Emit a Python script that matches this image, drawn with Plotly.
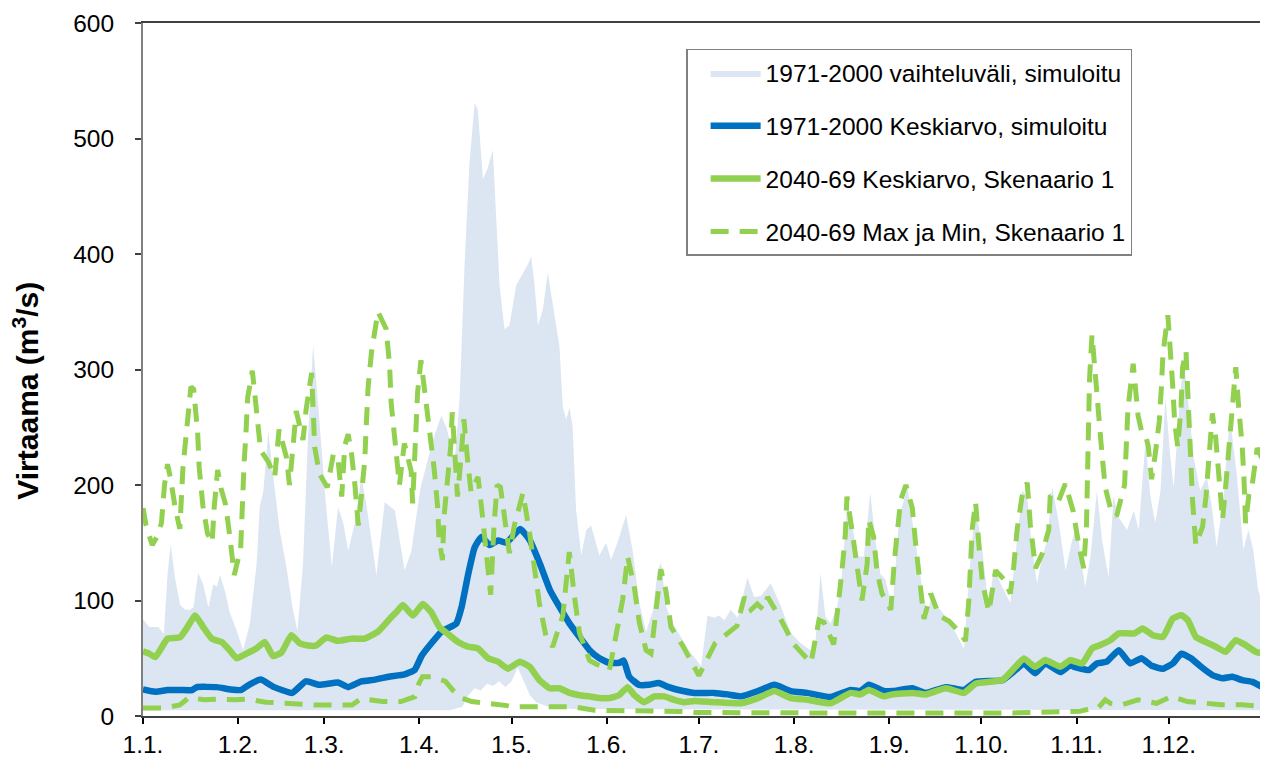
import plotly.graph_objects as go

# ---------------- data (day of year, 0 = 1.1.) ----------------
month_days = [0, 31, 59, 90, 120, 151, 181, 212, 243, 273, 304, 334]
month_labels = ["1.1.", "1.2.", "1.3.", "1.4.", "1.5.", "1.6.", "1.7.", "1.8.", "1.9.", "1.10.", "1.11.", "1.12."]

band_upper_day = [0, 2, 5, 6.8, 8, 9, 10.4, 12.1, 13.7, 15.3, 16.4, 18, 19.6, 21.3, 22.9, 24, 25.1, 26.7, 28.2, 30.5,
                  32.6, 34.8, 37, 38, 39.2, 40.8, 42.3, 44.5, 46.7, 48.8, 50.3, 52.1, 53.8, 55.4, 57.1, 58.7, 59.5,
                  61.5, 63.5, 65.2, 66.8, 69, 71.1, 72.7, 76, 78.7, 82, 85.2, 87.4, 90.3, 94.4, 97.1, 98.8, 101.5,
                  103.1, 104.7, 106.3, 108, 109, 110.7, 112.3, 113.9, 116.1, 117.7, 119.3, 121.5, 123.7, 125.3,
                  126.4, 127.5, 128.6, 130.2, 131.8, 133.4, 135.6, 136.7, 137.8, 138.9, 139.9, 141, 142.7, 144.3,
                  145.9, 148.6, 150.8, 152.4, 154.6, 157.3, 159.4, 161.6, 163.8, 166, 167.6, 168.7, 170.3, 172.5,
                  175.7, 177.9, 179.5, 181.7, 183.8, 186, 187.6, 189.3, 191.4, 193.6, 196.8, 199, 201.2, 204.4,
                  207.7, 210.9, 214.1, 217.4, 219, 220.6, 222.2, 223.9, 226, 227.6, 229.3, 230.9, 232.5, 234.7,
                  236.8, 238.5, 240.1, 241.8, 244, 246.2, 248.9, 251.6, 253.8, 255.4, 257, 258.7, 261.4, 264.6,
                  267.3, 269.5, 271.1, 273.3, 275.4, 277, 279.2, 282.4, 284.6, 286.3, 287.9, 289.5, 291.1, 292.8,
                  294.4, 296.1, 298.2, 300.4, 302.5, 304.2, 305.2, 306.8, 308.5, 310.6, 312.3, 314.4, 316, 317.7,
                  320.4, 322.6, 324.2, 326.4, 328, 329.6, 331.3, 332.9, 334.5, 335.6, 337.2, 338.8, 340.5, 342.1,
                  344.2, 346.4, 348, 349.6, 351.8, 353.9, 356.1, 358.3, 359.9, 361.5, 363.1, 365]
band_upper = [84, 77, 77, 71, 123, 149, 120, 96, 92, 92, 94, 124, 114, 94, 114, 112, 122, 108, 90, 74,
              57, 80, 132, 181, 195, 247, 210, 161, 129, 92, 74, 132, 247, 321, 267, 210, 185,
              129, 181, 167, 143, 167, 207, 184, 122, 185, 178, 126, 143, 197, 239, 260, 250, 221,
              275, 391, 479, 531, 525, 465, 475, 490, 373, 335, 338, 373, 384, 391,
              398, 373, 338, 352, 384, 356, 320, 267, 257, 267, 250, 179, 139, 161,
              165, 139, 150, 135, 151, 174, 144, 98, 73, 91, 126, 133, 95, 80,
              66, 56, 51, 43, 87, 85, 87, 83, 92, 85, 120, 103, 104, 115,
              95, 72, 63, 57, 66, 124, 86, 80, 94, 123, 184, 167, 138, 138,
              193, 152, 123, 118, 92, 172, 198, 150, 109, 86, 109, 95, 86, 72,
              58, 138, 181, 144, 92, 129, 115, 98, 152, 195, 190, 144, 115, 138,
              152, 198, 167, 126, 152, 167, 138, 112, 138, 195, 152, 120, 190, 172,
              161, 178, 161, 238, 190, 167, 195, 276, 224, 198, 259, 311, 267, 224,
              195, 207, 181, 146, 190, 259, 210, 144, 161, 144, 109, 95]

band_lower_day = [0, 100, 104, 106, 108, 110, 112, 114, 116, 118, 120, 122, 124, 126, 128, 132, 140, 365]
band_lower = [5, 5, 8, 18, 24, 22, 28, 26, 30, 25, 30, 42, 30, 18, 12, 8, 6, 5]

blue_day = [0, 4, 8, 12, 16, 17.5, 24, 28.6, 31.9, 34.5, 38.3, 42.7, 48.6, 53, 57.4, 63.5, 66.8, 71.1, 75.6,
            79.9, 85.2, 88.5, 90.7, 93.9, 97.2, 99.3, 102, 103.7, 105.9, 108, 110.2, 112.9, 115.6, 118.3,
            122.8, 126, 129.2, 132.5, 135.7, 138.9, 142.1, 145.4, 148.6, 151.8, 155, 156.5, 158.3, 161.5,
            164.7, 167.9, 171.2, 174.4, 179.5, 186, 190.4, 194.7, 200.2, 205.6, 210.9, 216.3, 223.9, 230.4,
            233.6, 236.3, 241.2, 244, 250.5, 254.9, 261.4, 267.3, 271.1, 279.8, 284.1, 286.8, 290.5, 293.8,
            298.7, 301.9, 303.1, 308, 310.6, 313.8, 317.7, 321.4, 325.1, 328.4, 332.1, 335.3, 338.1, 341.2,
            344.5, 348.2, 351.4, 354.7, 357.9, 361.2, 364.5]
blue_mean = [23, 21, 22.5, 22.5, 22.5, 25, 25, 23, 22.5, 27, 31.5, 25, 20, 30, 27, 29, 25, 30, 31.5,
             34, 36, 40, 52, 63, 73, 76, 80, 94, 123, 146, 155, 148, 152, 150,
             162, 152, 132, 109, 94, 80, 68.5, 57, 50, 46, 46, 48, 34, 27,
             27, 28.5, 25, 22.5, 20, 20, 18.7, 17, 21.6, 27, 21.6, 20, 16.4, 22.5,
             21.6, 27, 21.6, 21.6, 24, 20, 25, 22.5, 29.6, 31, 39.8, 45.5, 37, 45.5,
             38, 44, 42.6, 39.8, 45.5, 47, 57, 45.5, 50, 43.5, 41, 45.5, 54, 50,
             42.6, 35.4, 32.6, 34, 31, 29.6, 25]

green_day = [0, 2, 4, 8, 12, 14, 17, 19.6, 22.4, 25.6, 28.2, 30.5, 33.7, 37, 39.7, 42.3, 45.1, 48.3, 51,
             53.8, 56.4, 59.7, 63.4, 67.9, 72.2, 76.5, 80.3, 82.5, 84.6, 87.9, 91.1, 93.8, 96.5, 99.3, 102.6,
             105.8, 109, 112.4, 115.6, 118.8, 122.7, 125.9, 129.1, 132.4, 135.6, 138.9, 142.1, 145.4, 148.6,
             151.8, 155, 157.8, 160, 163.2, 166.5, 169.7, 173, 176.2, 179.5, 186, 194.7, 200.2, 205.6, 210.9,
             216.3, 223.9, 230.4, 233.6, 236.3, 241.2, 244, 250.5, 254.9, 261.4, 267.3, 271.1, 279.8, 284.1,
             286.8, 290.5, 293.8, 298.7, 301.9, 305.8, 309, 311.7, 315, 317.7, 320.7, 322.8, 325.5, 328.8,
             332.1, 335.3, 338.1, 340.2, 342.8, 346.1, 349.3, 352.5, 355.8, 359, 362.3, 364.5]
green_mean = [56, 54, 51, 67, 68, 75, 87, 77, 67, 64, 57, 50, 54, 58.6, 64, 52, 55, 70, 63,
              61, 61, 68, 65, 67, 67, 73, 84, 90, 96, 87, 97, 90, 77, 71, 64,
              60, 58.6, 50, 47, 41, 47, 42.6, 31, 24, 24, 20, 18, 17, 15.5,
              15.5, 18, 25, 18, 12, 17, 17, 14, 12, 13, 12, 11, 15.5, 21.6, 15.5,
              14, 11, 20, 18.7, 22.5, 17, 18.7, 20, 18.7, 24, 20, 28, 31, 42.6,
              49.8, 42.6, 48.4, 42.6, 48.4, 45.5, 58.5, 61.4, 65.7, 71.5, 71.5, 71.5, 75.8, 70,
              68.5, 84.4, 87.3, 83, 68.5, 64, 60, 55.6, 65.7, 61.4, 55.6, 54]

max_day = [0, 1, 3, 4.5, 6, 7, 8, 9, 10.5, 12, 13, 14.5, 15.6, 16.5, 17.8, 18.3, 19.5, 21, 22.5, 23.2, 24.3,
           25.4, 26.9, 28.3, 29.7, 31.8, 32.3, 32.9, 33.5, 34.1, 35.6, 37.2, 38.3, 40.8, 42.9, 44.3, 46.7,
           47.7, 48.8, 49.9, 52.1, 53.1, 54.9, 55.9, 57.4, 60, 62, 63.5, 64.7, 65.7, 66.8, 67.9, 69, 70.1,
           71.1, 72.2, 72.7, 73.3, 74.4, 76.5, 79.2, 80.3, 80.8, 81.9, 83.5, 85.1, 87.3, 87.8, 88.3, 88.9,
           89.4, 90.5, 92.1, 93.7, 94.8, 95.9, 96.4, 97.5, 98, 99.1, 100.2, 100.7, 101.2, 102.4, 103.5,
           104.5, 105.6, 106.8, 107.8, 109.1, 110.5, 111.5, 113.2, 114.3, 115.3, 116.4, 118, 119.3, 121,
           123.7, 125.9, 127.5, 129.1, 131.3, 133.4, 136.7, 137.8, 138.8, 140.5, 142.1, 145.4, 147.5,
           151.9, 154, 156.2, 157.8, 160, 161.6, 163.8, 165.4, 167, 168.1, 168.6, 170.3, 171.9, 175.7,
           178.5, 181, 186.3, 193.4, 195.8, 198, 200, 202, 203.4, 207.4, 211.9, 217.5, 220.1, 221.7, 224.9,
           226.5, 227.6, 228.7, 229.2, 230.9, 232.5, 234.1, 235.8, 236.3, 237.9, 239, 240.6, 243.5, 244.6,
           245.7, 246.7, 248.4, 250.5, 251.6, 252.7, 254.3, 256.5, 259.2, 262.5, 265.7, 267.8, 268.9, 270,
           271.1, 272.2, 273.3, 275.4, 277.6, 280.8, 282.4, 283.5, 284.6, 286.2, 287.9, 288.9, 290.6,
           292.7, 294.9, 295.4, 298.1, 300.3, 302.9, 304.7, 306.3, 307.2, 307.4, 307.6, 307.9, 308.2,
           309, 310.4, 311.2, 312.2, 313.3, 315, 317, 319.6, 320.2, 320.7, 322.4, 324, 325.1, 326.2, 327.3,
           328.4, 329.5, 330.9, 331.6, 332.1, 333.7, 334.7, 335.3, 335.9, 336.9, 338, 338.5, 339.6, 340.1,
           340.7, 341.2, 341.7, 342.8, 345, 346.1, 347.2, 348.2, 349.3, 350.4, 351.5, 352.5, 353.6, 354.7,
           355.8, 356.8, 357.9, 358.5, 359, 360.1, 361.2, 362.8, 364.5]
max_val = [180, 165, 148, 155, 167, 200, 218, 205, 180, 162, 215, 255, 285, 283, 245, 215, 182, 158, 150, 181, 213,
           197, 183, 155, 122, 145, 184, 218, 244, 276, 299, 262, 230, 220, 207, 248, 224,
           200, 237, 264, 239, 265, 297, 233, 210, 198, 227, 222, 190, 234, 244, 227, 200, 165,
           191, 221, 252, 285, 315, 350, 335, 303, 271, 241, 200, 236, 212, 184, 224, 250,
           280, 308, 275, 245, 214, 182, 153, 135, 172, 203, 234, 263, 236, 190, 222,
           257, 224, 194, 200, 207, 174, 145, 105, 165, 200, 198, 168, 141, 166,
           193, 158, 125, 97, 68, 60, 87, 117, 142, 103, 72, 48, 45,
           40, 70, 101, 138, 111, 81, 57, 54, 87, 118, 127, 108, 77, 61,
           48, 35, 63, 78, 103, 92, 97, 92, 103, 85, 62, 46, 83, 81, 62,
           97, 126, 158, 190, 160, 129, 100, 132, 170, 155, 125, 106, 92, 133,
           157, 187, 200, 180, 148, 122, 84, 106, 87, 82, 73, 65, 100, 162,
           185, 147, 116, 90, 126, 117, 106, 129, 161, 190, 202, 166, 128,
           140, 161, 191, 186, 201, 177, 148, 128, 166, 198, 228, 260, 292,
           330, 292, 260, 228, 198, 180, 173, 200, 234, 266, 305, 260, 247, 245, 234,
           205, 225, 255, 285, 314, 347, 314, 285, 255, 233, 268, 302, 316, 280,
           250, 220, 188, 148, 164, 190, 222, 262, 240, 208, 170, 198, 230, 263,
           302, 266, 234, 204, 167, 192, 201, 232, 222]

min_day = [0, 7, 12, 15, 20, 24, 30, 34, 40, 45, 50, 56, 60, 68, 71, 78, 84, 88.5, 89.8, 91, 94, 98.5, 101,
           103.3, 107, 113, 118.5, 120, 130, 140, 147, 152, 160, 175, 180, 200, 240, 280, 300, 305, 308,
           311, 313.3, 315, 319, 324, 330, 335, 340, 346, 351, 358, 364.5]
min_val = [7, 7, 9.5, 16, 14, 14.5, 14, 14.5, 12, 11, 11, 9.5, 9.5, 9.5, 15, 12.5, 12.5, 16.7, 28, 34, 34, 30, 22,
           16, 12.5, 11, 9, 8, 8, 8, 5, 5, 4, 4, 3, 2.5, 2.5, 2.5, 3, 4, 6,
           7, 14, 11, 10, 14, 11, 17, 12.5, 11, 9.8, 9.8, 8]

y_title = "<b>Virtaama (m<sup>3</sup>/s)</b>"

# ---------------- styles ----------------
BAND = "#DCE6F2"
BLUE = "#0070C0"
GREEN = "#92D050"
FONT = "Liberation Sans, Arial, sans-serif"
TXT = 24.5

fig = go.Figure()

fig.add_trace(go.Scatter(
    x=band_upper_day + band_lower_day[::-1],
    y=band_upper + band_lower[::-1],
    fill="toself", fillcolor=BAND, mode="lines", line=dict(width=0, color=BAND),
    name="1971-2000 vaihteluväli, simuloitu", legendgroup="g1", hoverinfo="skip"))

fig.add_trace(go.Scatter(
    x=blue_day, y=blue_mean, mode="lines",
    line=dict(color=BLUE, width=6.5, shape="spline", smoothing=0.4),
    name="1971-2000 Keskiarvo, simuloitu", legendgroup="g2"))

fig.add_trace(go.Scatter(
    x=green_day, y=green_mean, mode="lines",
    line=dict(color=GREEN, width=6.5, shape="spline", smoothing=0.4),
    name="2040-69 Keskiarvo, Skenaario 1", legendgroup="g3"))

fig.add_trace(go.Scatter(
    x=max_day, y=max_val, mode="lines",
    line=dict(color=GREEN, width=5, dash="18px,11px"),
    name="2040-69 Max ja Min, Skenaario 1", legendgroup="g4"))

fig.add_trace(go.Scatter(
    x=min_day, y=min_val, mode="lines",
    line=dict(color=GREEN, width=5, dash="18px,11px"),
    name="2040-69 Max ja Min, Skenaario 1", legendgroup="g4", showlegend=False))

# page body has an 8px margin: figure is sized/offset to compensate
fig.update_layout(
    width=1260, height=756,
    margin=dict(l=135, r=2, t=14, b=48),
    paper_bgcolor="white", plot_bgcolor="white",
    font=dict(family=FONT, size=TXT, color="black"),
    showlegend=True,
    legend=dict(
        x=0.4845, y=0.9625, xanchor="left", yanchor="top",
        bgcolor="white", bordercolor="#808080", borderwidth=1.5,
        font=dict(family=FONT, size=TXT, color="black"),
        traceorder="grouped", tracegroupgap=18, itemwidth=50, indentation=18,
    ),
    xaxis=dict(
        range=[0, 365], tickmode="array", tickvals=month_days, ticktext=month_labels,
        ticks="outside", ticklen=6, tickwidth=1.5, tickcolor="black",
        showline=True, linecolor="#404040", linewidth=1.5, mirror=True,
        showgrid=False, zeroline=False,
        tickfont=dict(family=FONT, size=TXT, color="black"),
    ),
    yaxis=dict(
        range=[0, 600], tickvals=[0, 100, 200, 300, 400, 500, 600],
        ticks="outside", ticklen=6, tickwidth=1.5, tickcolor="#404040",
        showline=True, linecolor="#808080", linewidth=2, mirror=True,
        showgrid=False, zeroline=False,
        tickfont=dict(family=FONT, size=TXT, color="black"),
        ticklabelstandoff=16,
    ),
    annotations=[dict(
        text=y_title, textangle=-90, showarrow=False,
        xref="paper", yref="paper", x=-0.1042, y=0.4697,
        xanchor="center", yanchor="middle",
        font=dict(family=FONT, size=30, color="black"),
    )],
)

fig.write_html("out.html")
